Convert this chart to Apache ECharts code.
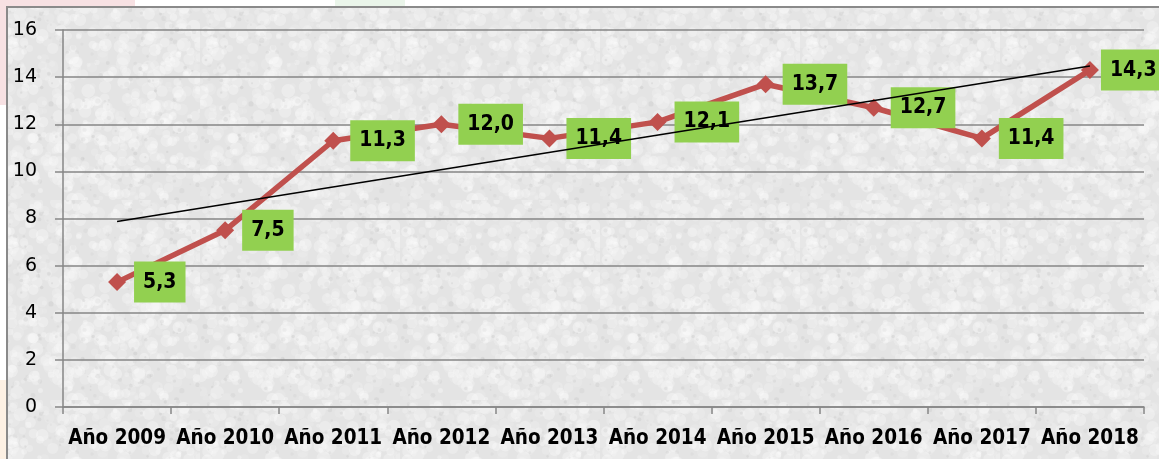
<!DOCTYPE html>
<html>
<head>
<meta charset="utf-8">
<script src="https://cdn.jsdelivr.net/npm/echarts@6/dist/echarts.min.js"></script>
<style>
html,body{margin:0;padding:0;background:#fff;}
#c{width:1159px;height:459px;}
</style>
</head>
<body>
<div id="c"></div>
<script>
// ---- data ----
var categories = ['Año 2009','Año 2010','Año 2011','Año 2012','Año 2013','Año 2014','Año 2015','Año 2016','Año 2017','Año 2018'];
var values = [5.3, 7.5, 11.3, 12.0, 11.4, 12.1, 13.7, 12.7, 11.4, 14.3];
var trendStart = 7.87;   // linear trend line value read at Año 2009
var trendEnd = 14.47;    // linear trend line value read at Año 2018
var yTicks = [0, 2, 4, 6, 8, 10, 12, 14, 16];

// ---- decorative granite-like texture (not data) ----
function makeTexture() {
  var cv = document.createElement('canvas');
  cv.width = 200; cv.height = 200;
  var ctx = cv.getContext('2d');
  ctx.fillStyle = '#e4e4e4';
  ctx.fillRect(0, 0, 200, 200);
  var s = 98765;
  function next() { s = (s * 1103515245 + 12345) % 2147483648; return s / 2147483648; }
  for (var i = 0; i < 600; i++) {
    var x = next() * 200, y = next() * 200, r = 2 + next() * 5;
    var a = 0.10 + next() * 0.25;
    ctx.fillStyle = 'rgba(255,255,255,' + a.toFixed(2) + ')';
    ctx.beginPath(); ctx.arc(x, y, r, 0, Math.PI * 2); ctx.fill();
  }
  for (var j = 0; j < 200; j++) {
    var x2 = next() * 200, y2 = next() * 200, r2 = 0.8 + next() * 1.8;
    ctx.fillStyle = 'rgba(160,160,160,' + (0.06 + next() * 0.12).toFixed(2) + ')';
    ctx.beginPath(); ctx.arc(x2, y2, r2, 0, Math.PI * 2); ctx.fill();
  }
  return cv;
}

var trendData = values.map(function (v, i) {
  if (i === 0) return trendStart;
  if (i === values.length - 1) return trendEnd;
  return null;
});

var seriesData = values.map(function (v, i) {
  if (i === values.length - 1) return { value: v, label: { distance: 2 } };
  return v;
});

var chart = echarts.init(document.getElementById('c'), null, { renderer: 'canvas' });
chart.setOption({
  animation: false,
  backgroundColor: '#ffffff',
  graphic: [
    { type: 'rect', z: -20, silent: true, shape: { x: 0, y: 0, width: 135, height: 8 }, style: { fill: '#f7e1e3' } },
    { type: 'rect', z: -20, silent: true, shape: { x: 0, y: 0, width: 7, height: 105 }, style: { fill: '#f7e1e3' } },
    { type: 'rect', z: -20, silent: true, shape: { x: 0, y: 380, width: 7, height: 79 }, style: { fill: '#fdf1e4' } },
    { type: 'rect', z: -20, silent: true, shape: { x: 335, y: 0, width: 70, height: 6 }, style: { fill: '#eaf5ea' } },
    { type: 'rect', z: -10, silent: true,
      shape: { x: 7, y: 7, width: 1170, height: 470 },
      style: { fill: { image: makeTexture(), repeat: 'repeat' }, stroke: '#8a8a8a', lineWidth: 2 } }
  ],
  grid: { left: 63, right: 15, top: 30, bottom: 52, containLabel: false },
  xAxis: {
    type: 'category',
    data: categories,
    boundaryGap: true,
    axisLine: { show: true, lineStyle: { color: '#868686', width: 1.5 } },
    axisTick: { show: true, length: 7, alignWithLabel: false, lineStyle: { color: '#868686', width: 1.5 } },
    axisLabel: { color: '#000', fontFamily: 'DejaVu Sans Condensed', fontWeight: 'bold', fontSize: 20.5, margin: 21, interval: 0 },
    splitLine: { show: false }
  },
  yAxis: {
    type: 'value',
    min: yTicks[0], max: yTicks[yTicks.length - 1], interval: 2,
    axisLine: { show: true, lineStyle: { color: '#868686', width: 1.5 } },
    axisTick: { show: true, length: 8, lineStyle: { color: '#868686', width: 1.5 } },
    axisLabel: { color: '#000', fontFamily: 'DejaVu Sans', fontSize: 19, margin: 26 },
    splitLine: { show: true, lineStyle: { color: '#868686', width: 1.5 } }
  },
  series: [
    {
      type: 'line',
      data: seriesData,
      z: 2,
      symbol: 'diamond',
      symbolSize: [18, 18],
      lineStyle: { color: '#c0504d', width: 5.5 },
      itemStyle: { color: '#c0504d' },
      label: {
        show: true,
        position: 'right',
        distance: 8,
        formatter: function (p) { return p.value.toFixed(1).replace('.', ','); },
        backgroundColor: '#92d050',
        padding: [11, 9, 10, 9],
        color: '#000',
        fontFamily: 'DejaVu Sans Condensed',
        fontWeight: 'bold',
        fontSize: 21,
        lineHeight: 20
      }
    },
    {
      type: 'line',
      data: trendData,
      connectNulls: true,
      z: 5,
      symbol: 'none',
      silent: true,
      lineStyle: { color: '#000', width: 1.5 }
    }
  ]
});
</script>
</body>
</html>
